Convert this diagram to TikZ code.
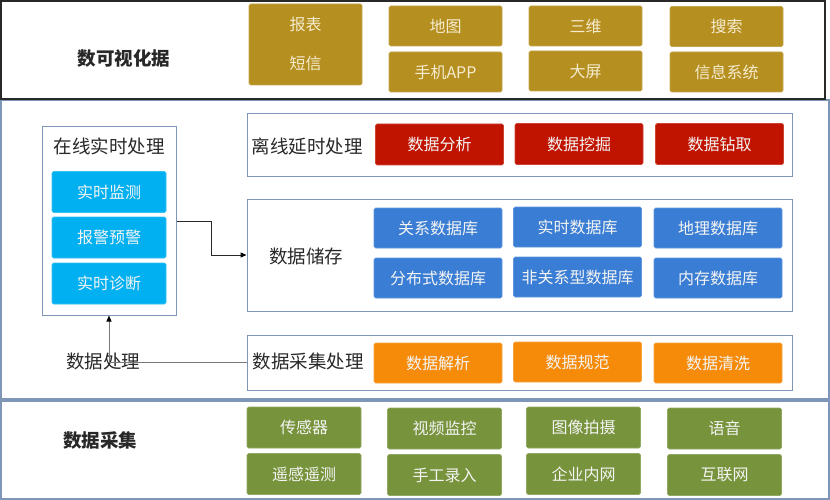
\documentclass[tikz,border=0pt]{standalone}
\usepackage{fontspec}
\setmainfont{Noto Sans CJK SC}
\usetikzlibrary{arrows.meta}
\definecolor{goldc}{RGB}{181,143,31}
\definecolor{goldt}{RGB}{245,236,208}
\definecolor{redc}{RGB}{192,20,0}
\definecolor{cyanc}{RGB}{0,176,240}
\definecolor{bluec}{RGB}{58,125,212}
\definecolor{orangec}{RGB}{246,139,10}
\definecolor{greenc}{RGB}{119,147,60}
\definecolor{framec}{RGB}{127,150,184}
\definecolor{darkc}{RGB}{40,40,40}
\definecolor{boxt}{RGB}{244,244,244}
\definecolor{linec}{RGB}{120,120,120}
\tikzset{
  fbox/.style={rounded corners=1.5pt, inner sep=0pt, text=boxt,
    font=\fontsize{16}{19}\selectfont},
  goldbox/.style={fbox, fill=goldc, draw=goldc!80!white, line width=0.6pt, text=goldt, minimum width=113pt, minimum height=40pt},
  redbox/.style={fbox, fill=redc, draw=redc!80!white, line width=0.6pt, minimum width=128pt, minimum height=41pt},
  cyanbox/.style={fbox, fill=cyanc, draw=cyanc!80!white, line width=0.6pt, minimum width=114pt, minimum height=41pt},
  bluebox/.style={fbox, fill=bluec, draw=bluec!80!white, line width=0.6pt, minimum width=128pt, minimum height=40pt},
  orangebox/.style={fbox, fill=orangec, draw=orangec!80!white, line width=0.6pt, minimum width=128pt, minimum height=40pt},
  greenbox/.style={fbox, fill=greenc, draw=greenc!80!white, line width=0.6pt, minimum width=114pt, minimum height=41pt},
  container/.style={draw=framec, line width=1pt, inner sep=0pt},
  band/.style={draw=framec, line width=1.5pt},
  lab/.style={text=darkc, inner sep=0pt, font=\fontsize{18.5}{22}\selectfont},
  blab/.style={lab, font=\fontsize{18.5}{22}\selectfont\bfseries},
  conn/.style={line width=1pt, -{Triangle[length=6pt,width=5pt,color=black]}},
}
\begin{document}
\begin{tikzpicture}[x=1pt,y=-1pt]
\useasboundingbox (0,0) rectangle (830,500);
% bands
\draw[band] (1,100) rectangle (829,399);
\draw[band] (1,401) rectangle (829,499);
\draw[draw=darkc, line width=1.2pt] (1,1) rectangle (825,99);

% top band
\node[blab] (vislab) at (124,58) {数可视化据};
\node[goldbox, minimum height=81pt] (g1) at (305.5,44.5) {};
\node[lab, text=goldt, font=\fontsize{16}{19}\selectfont] (g1a) at (305.5,24) {报表};
\node[lab, text=goldt, font=\fontsize{16}{19}\selectfont] (g1b) at (305.5,63) {短信};
\node[goldbox] (g2a) at (445.5,26) {地图};
\node[goldbox] (g2b) at (445.5,72) {手机APP};
\node[goldbox] (g3a) at (585.5,26) {三维};
\node[goldbox] (g3b) at (585.5,71) {大屏};
\node[goldbox] (g4a) at (726.5,26.5) {搜索};
\node[goldbox] (g4b) at (726.5,72) {信息系统};

% online
\node[container, minimum width=134pt, minimum height=188pt] (online) at (109,221) {};
\node[lab] (onlab) at (109,146) {在线实时处理};
\node[cyanbox] (c1) at (109,192) {实时监测};
\node[cyanbox] (c2) at (109,237.5) {报警预警};
\node[cyanbox] (c3) at (109,283.5) {实时诊断};

% offline
\node[container, minimum width=545pt, minimum height=62pt] (offline) at (519.5,145) {};
\node[lab] (offlab) at (307,146) {离线延时处理};
\node[redbox] (r1) at (439.5,144.5) {数据分析};
\node[redbox] (r2) at (579,144) {数据挖掘};
\node[redbox] (r3) at (719.5,144) {数据钻取};

% storage
\node[container, minimum width=545pt, minimum height=112pt] (storage) at (519.5,255) {};
\node[lab] (stlab) at (306,256) {数据储存};
\node[bluebox] (b1) at (438,228) {关系数据库};
\node[bluebox] (b2) at (577.5,227) {实时数据库};
\node[bluebox] (b3) at (718,228) {地理数据库};
\node[bluebox] (b4) at (438,278) {分布式数据库};
\node[bluebox] (b5) at (577.5,277) {非关系型数据库};
\node[bluebox] (b6) at (718,278) {内存数据库};

% collect processing
\node[container, minimum width=545pt, minimum height=55pt] (collect) at (519.5,362.5) {};
\node[lab] (colab) at (308,361) {数据采集处理};
\node[orangebox] (o1) at (438,363) {数据解析};
\node[orangebox] (o2) at (577.5,362) {数据规范};
\node[orangebox] (o3) at (718,363) {数据清洗};

\node[lab] (proclab) at (103,361) {数据处理};

% connectors
\draw[conn, draw=linec] (collect.west) -| (online.south);
\coordinate (bend) at (211,221);
\draw[conn, draw=darkc] (online.east) -- (bend) |- (storage.west);

% bottom band
\node[blab] (acqlab) at (100,440) {数据采集};
\node[greenbox] (e1) at (304,427.5) {传感器};
\node[greenbox] (e2) at (304,474) {遥感遥测};
\node[greenbox] (e3) at (444.5,428.5) {视频监控};
\node[greenbox] (e4) at (444.5,475) {手工录入};
\node[greenbox] (e5) at (583.5,427.5) {图像拍摄};
\node[greenbox] (e6) at (583.5,474) {企业内网};
\node[greenbox] (e7) at (724.5,428.5) {语音};
\node[greenbox] (e8) at (724.5,475) {互联网};
\end{tikzpicture}
\end{document}
